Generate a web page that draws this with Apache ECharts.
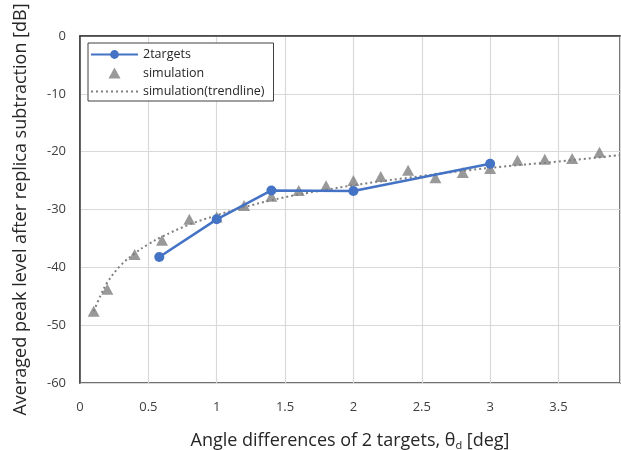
<!DOCTYPE html>
<html>
<head>
<meta charset="utf-8">
<script src="https://cdn.jsdelivr.net/npm/echarts@6/dist/echarts.min.js"></script>
<style>
  html, body { margin: 0; padding: 0; background: #fff; }
  #chart { width: 621px; height: 450px; }
</style>
</head>
<body>
<div id="chart"></div>
<script>
// Measured: two-target peak level after replica subtraction
const targetAngles = [0.58, 1.0, 1.4, 2.0, 3.0];
const targetLevels = [-38.2, -31.7, -26.7, -26.8, -22.1];

// Simulated peak level
const simAngles = [0.1, 0.2, 0.4, 0.6, 0.8, 1.0, 1.2, 1.4, 1.6, 1.8, 2.0, 2.2, 2.4, 2.6, 2.8, 3.0, 3.2, 3.4, 3.6, 3.8];
const simLevels = [-47.6, -43.8, -37.8, -35.3, -31.7, -31.3, -29.3, -27.7, -26.7, -25.9, -25.0, -24.3, -23.2, -24.5, -23.6, -22.9, -21.5, -21.3, -21.2, -20.1];

// Logarithmic trendline of the simulation
const trendAngles = [0.1, 0.15, 0.2, 0.3, 0.4, 0.5, 0.6, 0.8, 1.0, 1.2, 1.4, 1.6, 1.8, 2.0, 2.5, 3.0, 3.5, 3.95];
const trendLevels = [-47.6, -44.9, -42.6, -39.6, -37.6, -36.0, -34.7, -32.6, -31.0, -29.6, -28.4, -27.4, -26.6, -25.8, -24.2, -22.8, -21.7, -20.6];

const zip = (xs, ys) => xs.map((x, i) => [x, ys[i]]);

const FONT = '"Open Sans", "Noto Sans", sans-serif';
const GREY = '#7f7f7f';
const BLUE = '#4472c4';
// legend icons: filled triangle, and a row of small dots for the dotted trendline
const TRIANGLE = 'path://M0,-10 L11,10 L-11,10 Z';
const DOTS = 'path://' + [0, 5, 10, 15, 20, 25, 30, 35, 40, 45]
  .map(x => `M${x},0 h2 v2 h-2 Z`).join(' ');

const chart = echarts.init(document.getElementById('chart'), null, { renderer: 'canvas' });
chart.setOption({
  animation: false,
  backgroundColor: '#fff',
  textStyle: { fontFamily: FONT },
  grid: {
    left: 80, right: 1, top: 36, bottom: 67,
    outerBoundsMode: 'none',
    show: true, borderColor: '#404040', borderWidth: 1.5
  },
  legend: {
    orient: 'vertical',
    left: 88, top: 43,
    padding: [5, 9, 3, 2],
    itemGap: 5.5,
    itemWidth: 47, itemHeight: 11,
    backgroundColor: '#fff',
    borderColor: '#404040', borderWidth: 1,
    textStyle: { fontFamily: FONT, fontSize: 12.5, color: '#262626' },
    data: [
      { name: '2targets' },
      { name: 'simulation', icon: TRIANGLE },
      { name: 'simulation(trendline)', icon: DOTS }
    ]
  },
  xAxis: {
    type: 'value',
    min: 0, max: 3.95, interval: 0.5,
    name: 'Angle differences of 2 targets, θ{sub|d} [deg]',
    nameLocation: 'middle', nameGap: 48,
    nameTextStyle: {
      fontFamily: FONT, fontSize: 18, color: '#262626',
      rich: { sub: { fontFamily: FONT, fontSize: 11, color: '#262626', verticalAlign: 'bottom', padding: [9, 0, 0, 0] } }
    },
    axisLine: { show: true, lineStyle: { color: '#404040', width: 1.5 } },
    axisTick: { show: false },
    axisLabel: { fontFamily: FONT, fontSize: 13, color: '#404040', margin: 18, showMaxLabel: false },
    splitLine: { show: true, lineStyle: { color: '#d9d9d9', width: 1.2 } }
  },
  yAxis: {
    type: 'value',
    min: -60, max: 0, interval: 10,
    name: 'Averaged peak level after replica subtraction [dB]',
    nameLocation: 'middle', nameGap: 50,
    nameTextStyle: { fontFamily: FONT, fontSize: 18, color: '#262626' },
    axisLine: { show: true, lineStyle: { color: '#404040', width: 1.5 } },
    axisTick: { show: false },
    axisLabel: { fontFamily: FONT, fontSize: 13, color: '#404040', margin: 14 },
    splitLine: { show: true, lineStyle: { color: '#d9d9d9', width: 1.2 } }
  },
  series: [
    {
      name: 'simulation(trendline)',
      type: 'line',
      data: zip(trendAngles, trendLevels),
      smooth: 0.4,
      showSymbol: false,
      symbol: 'none',
      lineStyle: { color: GREY, width: 2, type: [2, 3] },
      itemStyle: { color: GREY },
      z: 2
    },
    {
      name: 'simulation',
      type: 'scatter',
      data: zip(simAngles, simLevels),
      symbol: 'triangle',
      symbolSize: [12, 11],
      itemStyle: { color: GREY },
      z: 3
    },
    {
      name: '2targets',
      type: 'line',
      data: zip(targetAngles, targetLevels),
      symbol: 'circle',
      symbolSize: 10,
      showAllSymbol: true,
      lineStyle: { color: BLUE, width: 2.5 },
      itemStyle: { color: BLUE },
      z: 4
    }
  ]
});
</script>
</body>
</html>
